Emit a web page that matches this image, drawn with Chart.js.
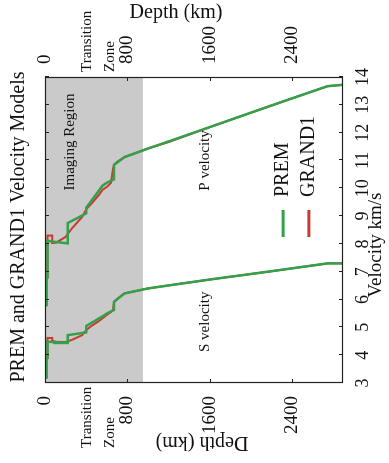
<!DOCTYPE html>
<html><head><meta charset="utf-8">
<style>
html,body{margin:0;padding:0;background:#fff;overflow:hidden;width:389px;height:463px;}
#wrap{position:absolute;left:0;top:0;width:463px;height:389px;transform-origin:0 0;transform:translate(0,463px) rotate(-90deg);background:#fff;}
canvas{display:block;}
</style>
<script src="https://cdn.jsdelivr.net/npm/chart.js@4/dist/chart.umd.min.js"></script>
</head><body><div id="wrap"><canvas id="c" width="463" height="389"></canvas></div>
<script>
// ---- data (depth in km, velocity in km/s) ----
const premDepth = [0, 15, 15, 24, 24, 80, 220, 220, 400, 400, 560, 600, 670, 670, 771, 1000, 1600, 2200, 2741, 2891];
const premVp    = [5.8, 5.8, 6.8, 6.8, 8.11, 8.08, 8.02, 8.75, 9.1, 9.3, 10.1, 10.2, 10.32, 10.84, 11.12, 11.43, 12.2, 12.98, 13.67, 13.72];
const premVs    = [3.2, 3.2, 3.9, 3.9, 4.49, 4.47, 4.44, 4.72, 4.82, 5.05, 5.4, 5.5, 5.63, 5.92, 6.22, 6.4, 6.72, 7.02, 7.3, 7.3];

const grandDepth = [0, 15, 15, 24, 24, 70, 70, 110, 200, 260, 360, 400, 450, 520, 560, 600, 640, 660, 670, 700, 771, 1000, 1200, 1600, 2200, 2741, 2891];
const grandVp    = [5.8, 5.8, 6.8, 6.8, 8.3, 8.3, 8.03, 8.05, 8.25, 8.55, 8.97, 9.25, 9.45, 9.75, 9.95, 10.05, 10.2, 10.7, 10.85, 10.95, 11.12, 11.43, 11.66, 12.2, 12.98, 13.67, 13.72];
const grandVs    = [3.2, 3.2, 3.9, 3.9, 4.62, 4.62, 4.52, 4.48, 4.47, 4.55, 4.72, 4.9, 5.05, 5.22, 5.33, 5.45, 5.55, 5.62, 5.9, 6.02, 6.22, 6.4, 6.51, 6.72, 7.02, 7.3, 7.3];

const depthTicks = [0, 800, 1600, 2400];
const velocityRange = [3, 14];
const depthRange = [0, 2891];
const imagingRegion = [0, 950];
const transitionLabels = [["Transition", 410], ["Zone", 630]];

const GREEN = '#33a04a', RED = '#c93a30';
const SERIF = '"Liberation Serif", "DejaVu Serif", serif';

function pts(d, v){ return d.map((dd,i)=>({x:v[i], y:dd})); }

function txt(ctx, s, x, y, rot, size, align, base){
  ctx.save(); ctx.translate(x,y); ctx.rotate(rot||0);
  ctx.font = size + 'px ' + SERIF; ctx.fillStyle = '#111';
  ctx.textAlign = align||'center'; ctx.textBaseline = base||'middle';
  ctx.fillText(s,0,0); ctx.restore();
}

const deco = {
  id:'deco',
  beforeDatasetsDraw(chart){
    const {ctx, chartArea:a, scales:{y}} = chart;
    ctx.save();
    ctx.fillStyle = '#cacaca';
    const y0 = y.getPixelForValue(imagingRegion[0]), y1 = y.getPixelForValue(imagingRegion[1]);
    ctx.fillRect(a.left, y0, a.right-a.left, y1-y0);
    ctx.restore();
  },
  afterDatasetsDraw(chart){
    const {ctx, chartArea:a, scales:{x,y}} = chart;
    ctx.save();
    ctx.strokeStyle = '#222'; ctx.lineWidth = 1.2;
    ctx.strokeRect(a.left+0.5, a.top+0.5, a.right-a.left-1, a.bottom-a.top-1);
    ctx.lineWidth = 1;
    // inward ticks
    x.ticks.forEach(t=>{ const px = Math.round(x.getPixelForValue(t.value))+0.5;
      ctx.beginPath(); ctx.moveTo(px,a.top); ctx.lineTo(px,a.top+4); ctx.moveTo(px,a.bottom); ctx.lineTo(px,a.bottom-4); ctx.stroke(); });
    depthTicks.forEach(v=>{ const py = Math.round(y.getPixelForValue(v))+0.5;
      ctx.beginPath(); ctx.moveTo(a.left,py); ctx.lineTo(a.left+4,py); ctx.moveTo(a.right,py); ctx.lineTo(a.right-4,py); ctx.stroke(); });
    ctx.restore();
    // in-plot labels
    txt(ctx, 'Imaging Region', a.left+241, y.getPixelForValue(245), 0, 15);
    txt(ctx, 'P velocity', x.getPixelForValue(11.0), y.getPixelForValue(1555), 0, 15);
    txt(ctx, 'S velocity', x.getPixelForValue(5.2), y.getPixelForValue(1555), 0, 15);
    // legend
    const ds = chart.data.datasets;
    const legY = [y.getPixelForValue(2310), y.getPixelForValue(2560)];
    [0,1].forEach(i=>{
      ctx.save(); ctx.strokeStyle = ds[i].borderColor; ctx.lineWidth = 3;
      ctx.beginPath(); ctx.moveTo(a.left+146, legY[i]); ctx.lineTo(a.left+173, legY[i]); ctx.stroke(); ctx.restore();
      txt(ctx, ds[i].label, a.left+186, legY[i], 0, 20, 'left');
    });
  },
  afterDraw(chart){
    const {ctx, chartArea:a, scales:{y}} = chart;
    const W = chart.width;
    // title
    txt(ctx, 'PREM and GRAND1 Velocity Models', 236, 19, 0, 20);
    // axis titles
    txt(ctx, 'Velocity km/s', 218, 376, 0, 19);
    txt(ctx, 'Depth (km)', W-13, 176, Math.PI/2, 20);
    txt(ctx, 'Depth (km)', 21, 202, -Math.PI/2, 20);
    // transition zone labels
    transitionLabels.forEach(([s,d])=>{
      const py = y.getPixelForValue(d);
      txt(ctx, s, a.right+5, py, 0, 15, 'left');
      txt(ctx, s, 15, py, 0, 15, 'left');
    });
  }
};

const tickFont = {family: SERIF, size: 19};
new Chart(document.getElementById('c'), {
  type: 'scatter',
  data: { datasets: [
    {label:'PREM', data: pts(premDepth, premVp), borderColor: GREEN, backgroundColor: GREEN, borderWidth: 2.5, showLine:true, pointRadius:0, order:0, yAxisID:'y'},
    {label:'GRAND1', data: pts(grandDepth, grandVp), borderColor: RED, backgroundColor: RED, borderWidth: 2, showLine:true, pointRadius:0, order:1, yAxisID:'y'},
    {label:'PREM S', data: pts(premDepth, premVs), borderColor: GREEN, borderWidth: 2.5, showLine:true, pointRadius:0, order:0, yAxisID:'y'},
    {label:'GRAND1 S', data: pts(grandDepth, grandVs), borderColor: RED, borderWidth: 2, showLine:true, pointRadius:0, order:1, yAxisID:'y'}
  ]},
  options: {
    responsive:false, animation:false, devicePixelRatio:1,
    layout:{padding:{top:45, left:0, right:0, bottom:0}},
    plugins:{legend:{display:false}, title:{display:false}, tooltip:{enabled:false}},
    elements:{line:{tension:0}},
    scales:{
      x:{type:'linear', position:'bottom', min:velocityRange[0], max:velocityRange[1],
         ticks:{stepSize:1, font:{family:SERIF, size:18}, color:'#111', padding:1, maxRotation:0, autoSkip:false, callback:v=>String(v)},
         grid:{display:false}, border:{display:false}, afterFit(s){ s.height = 46; }},
      y:{type:'linear', position:'left', reverse:true, min:depthRange[0], max:depthRange[1],
         afterBuildTicks(s){ s.ticks = depthTicks.map(v=>({value:v})); },
         ticks:{font:tickFont, color:'#111', padding:5, autoSkip:false, callback:v=>String(v)},
         grid:{display:false}, border:{display:false}, afterFit(s){ s.width = 80; }},
      y2:{type:'linear', position:'right', reverse:true, min:depthRange[0], max:depthRange[1],
         afterBuildTicks(s){ s.ticks = depthTicks.map(v=>({value:v})); },
         ticks:{font:tickFont, color:'#111', padding:5, autoSkip:false, callback:v=>String(v)},
         grid:{display:false}, border:{display:false}, afterFit(s){ s.width = 77; }}
    }
  },
  plugins:[deco]
});
</script>
</body></html>
